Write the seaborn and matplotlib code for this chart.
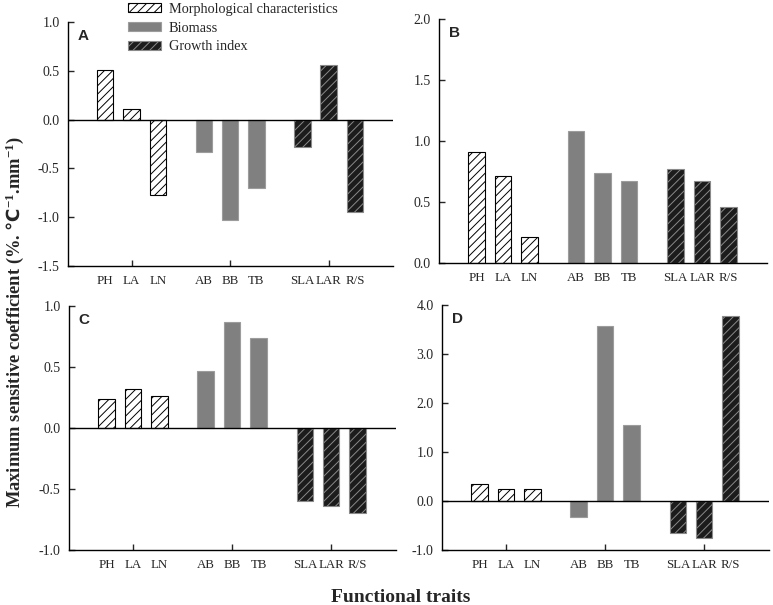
import matplotlib
matplotlib.use("Agg")
import matplotlib.pyplot as plt
import seaborn as sns
import pandas as pd
import numpy as np
from matplotlib.patches import Patch
from matplotlib.ticker import FormatStrFormatter

# ---------------- data ----------------
traits = ["PH", "LA", "LN", "AB", "BB", "TB", "SLA", "LAR", "R/S"]
group_names = ["Morphological characteristics", "Biomass", "Growth index"]
groups = [group_names[0]] * 3 + [group_names[1]] * 3 + [group_names[2]] * 3

vals_A = [0.51, 0.11, -0.77, -0.33, -1.03, -0.70, -0.28, 0.56, -0.95]
vals_B = [0.91, 0.71, 0.21, 1.08, 0.74, 0.67, 0.77, 0.67, 0.46]
vals_C = [0.24, 0.32, 0.26, 0.47, 0.87, 0.74, -0.60, -0.64, -0.70]
vals_D = [0.35, 0.25, 0.25, -0.33, 3.58, 1.55, -0.66, -0.75, 3.78]

panel_letters = ["A", "B", "C", "D"]
ylims = [(-1.5, 1.0), (0.0, 2.0), (-1.0, 1.0), (-1.0, 4.0)]
ysteps = [0.5, 0.5, 0.5, 1.0]

# ---------------- style ----------------
sns.set_style("ticks")
plt.rcParams.update({
    "font.family": ["Liberation Serif", "DejaVu Serif"],
    "hatch.linewidth": 0.7,
    "axes.unicode_minus": False,
    "mathtext.fontset": "custom",
    "mathtext.rm": "Liberation Serif:bold",
    "mathtext.bf": "Liberation Serif:bold",
    "mathtext.sf": "DejaVu Sans:bold",
    "mathtext.default": "rm",
    "axes.edgecolor": "black",
    "axes.linewidth": 1.0,
})

styles = {
    group_names[0]: dict(facecolor="white", edgecolor="black", hatch="////"),
    group_names[1]: dict(facecolor="#808080", edgecolor="#9c9c9c", hatch=None),
    group_names[2]: dict(facecolor="#1c1c1c", edgecolor="#8a8a8a", hatch="////"),
}

positions = np.array([i + 0.75 * (i // 3) for i in range(len(traits))])

W, H = 773, 605
rects_px = [(68, 22, 393, 266), (439, 19, 767, 263), (69, 306, 396, 550), (442, 305, 769, 550)]

fig = plt.figure(figsize=(W / 100, H / 100), dpi=100)

for k, vals in enumerate([vals_A, vals_B, vals_C, vals_D]):
    x0, y0, x1, y1 = rects_px[k]
    ax = fig.add_axes([x0 / W, 1 - y1 / H, (x1 - x0) / W, (y1 - y0) / H])
    df = pd.DataFrame({"pos": positions, "value": vals, "group": groups})
    sns.barplot(data=df, x="pos", y="value", hue="group", hue_order=group_names,
                palette={g: styles[g]["facecolor"] for g in group_names},
                native_scale=True, dodge=False, width=0.62, errorbar=None,
                legend=False, ax=ax, zorder=2)
    for p in ax.patches:
        c = p.get_x() + p.get_width() / 2
        g = groups[int(np.argmin(np.abs(positions - c)))]
        st = styles[g]
        p.set_facecolor(st["facecolor"])
        p.set_edgecolor(st["edgecolor"])
        p.set_hatch(st["hatch"])
        p.set_linewidth(0.8)

    lo, hi = ylims[k]
    if lo < 0:
        ax.axhline(0, color="black", lw=1.0, zorder=3)
    ax.set_xlim(-1.42, 10.95)
    ax.set_ylim(lo, hi)
    ax.set_yticks(np.arange(lo, hi + 1e-9, ysteps[k]))
    ax.yaxis.set_major_formatter(FormatStrFormatter("%.1f"))
    ax.xaxis.remove_overlapping_locs = False
    ax.set_xticks(positions[[1, 4, 7]], labels=["", "", ""])
    ax.set_xticks(positions, labels=traits, minor=True)
    ax.tick_params(axis="x", which="major", direction="in", length=4, width=1)
    ax.tick_params(axis="x", which="minor", length=0, pad=6.5, labelsize=9.3)
    ax.tick_params(axis="y", direction="in", length=4, width=1, pad=6, labelsize=10)
    ax.set_xlabel("")
    ax.set_ylabel("")
    sns.despine(ax=ax)
    ax.text(0.03, 0.972, panel_letters[k], transform=ax.transAxes, ha="left", va="top",
            fontsize=11, fontweight="bold", family=["Liberation Sans", "DejaVu Sans"])

handles = [Patch(facecolor=styles[g]["facecolor"], edgecolor=styles[g]["edgecolor"],
                 hatch=styles[g]["hatch"], linewidth=0.8, label=g) for g in group_names]
fig.legend(handles=handles, loc="upper left", bbox_to_anchor=(128 / W, 1 - 3 / H),
           frameon=False, borderpad=0, borderaxespad=0, handlelength=2.3,
           handleheight=0.6, handletextpad=0.55, labelspacing=0.4, fontsize=10.3)

fig.text(401 / W, 1 - 597 / H, "Functional traits", ha="center", va="center",
         fontsize=14, fontweight="bold")
fig.text(15 / W, 1 - 322 / H,
         r"Maximum sensitive coefficient (%. $\mathsf{℃}^{-1}$.mm$^{-1}$)",
         ha="center", va="center", rotation=90, fontsize=13.3, fontweight="bold")

fig.savefig("out.png", dpi=100)
